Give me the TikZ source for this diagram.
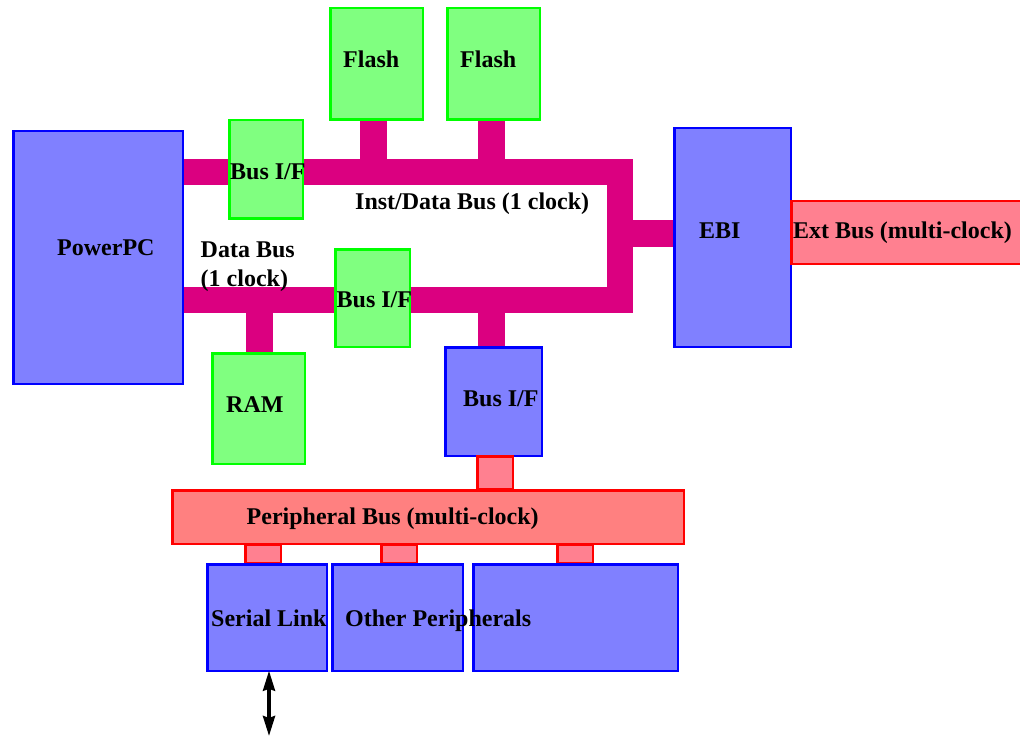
\documentclass[tikz,border=0pt]{standalone}
\usepackage{fontspec}
\setmainfont{Liberation Serif}
\usetikzlibrary{arrows.meta}
\definecolor{gfill}{RGB}{128,255,128}
\definecolor{gline}{RGB}{0,255,0}
\definecolor{bfill}{RGB}{128,128,255}
\definecolor{bline}{RGB}{0,0,255}
\definecolor{busc}{RGB}{219,0,128}
\definecolor{pfill}{RGB}{255,128,128}
\definecolor{sfill}{RGB}{255,128,144}
\definecolor{rline}{RGB}{255,0,0}
\newcommand\mybox[6]{\node[#2, minimum width={(#5-#3-2.5)*1pt}, minimum height={(#6-#4-2.5)*1pt}] (#1) at ({(#3+#5)/2},{(#4+#6)/2}) {};}
\begin{document}
\begin{tikzpicture}[x=1pt,y=-1pt,
  boxbase/.style={rectangle, inner sep=0pt, outer sep=0pt, line width=2.5pt},
  gbox/.style={boxbase, draw=gline, fill=gfill},
  bbox/.style={boxbase, draw=bline, fill=bfill},
  pbox/.style={boxbase, draw=rline, fill=pfill},
  sbox/.style={boxbase, draw=rline, fill=sfill},
  bus/.style={draw=busc, line width=26pt, line join=miter, line cap=butt},
  stub/.style={draw=busc, line width=27pt, line cap=butt},
  lbl/.style={anchor=base west, inner sep=0pt, font=\fontsize{24}{28}\selectfont\bfseries},
  dbl/.style={line width=3.5pt, {Stealth[length=20pt,width=12pt,inset=2pt]}-{Stealth[length=20pt,width=12pt,inset=2pt]}}
]
\useasboundingbox (0,0) rectangle (1020,738);
% junction coordinates
\coordinate (ja) at (619.5,172);
\coordinate (jb) at (619.5,300);
\coordinate (jc) at (619.5,233.5);
% magenta buses
\draw[bus] (184,172) -- (ja) -- (jb) -- (184,300);
\draw[stub] (jc) -- (673,233.5);
\draw[stub] (373.5,121) -- (373.5,172);
\draw[stub] (491.5,121) -- (491.5,172);
\draw[stub] (259.5,352) -- (259.5,300);
\draw[stub] (491.5,346) -- (491.5,300);
% boxes
\mybox{ppc}{bbox}{12}{130}{184}{385}
\mybox{flasha}{gbox}{329}{7}{424}{121}
\mybox{flashb}{gbox}{446}{7}{541}{121}
\mybox{bifa}{gbox}{228}{119}{304}{220}
\mybox{bifb}{gbox}{334}{248}{411}{348}
\mybox{ram}{gbox}{211}{352}{306}{465}
\mybox{ebi}{bbox}{673}{127}{792}{348}
\mybox{ext}{sbox}{790}{200}{1030}{265}
\mybox{bifc}{bbox}{444}{346}{543}{457}
\mybox{stubo}{sbox}{476}{455}{514}{490}
\mybox{stuba}{sbox}{244}{543}{282}{564}
\mybox{stubb}{sbox}{380}{543}{418}{564}
\mybox{stubc}{sbox}{556}{543}{594}{564}
\mybox{pbus}{pbox}{171}{489}{685}{545}
\mybox{serial}{bbox}{206}{563}{328}{672}
\mybox{other}{bbox}{331}{563}{464}{672}
\mybox{perc}{bbox}{472}{563}{679}{672}
% arrow
\coordinate (aend) at (269,736);
\draw[dbl] (serial.south -| aend) -- (aend);
% labels
\node[lbl] (tfa) at (343,68) {Flash};
\node[lbl] (tfb) at (460,68) {Flash};
\node[lbl] (tbifa) at (230,180) {Bus I/F};
\node[lbl] (tinst) at (355,209.5) {Inst/Data Bus (1 clock)};
\node[lbl] (tppc) at (57,255) {PowerPC};
\node[lbl] (tdba) at (200.5,258) {Data Bus};
\node[lbl] (tdbb) at (200.5,286.5) {(1 clock)};
\node[lbl] (tbifb) at (336.5,307.5) {Bus I/F};
\node[lbl] (tebi) at (699,238.5) {EBI};
\node[lbl] (text) at (793,238.5) {Ext Bus (multi-clock)};
\node[lbl] (tram) at (226,412.5) {RAM};
\node[lbl] (tbifc) at (463,406.5) {Bus I/F};
\node[lbl] (tpbus) at (246.5,524.5) {Peripheral Bus (multi-clock)};
\node[lbl] (tser) at (211,626) {Serial Link};
\node[lbl] (toth) at (345,626) {Other Peripherals};
\end{tikzpicture}
\end{document}
